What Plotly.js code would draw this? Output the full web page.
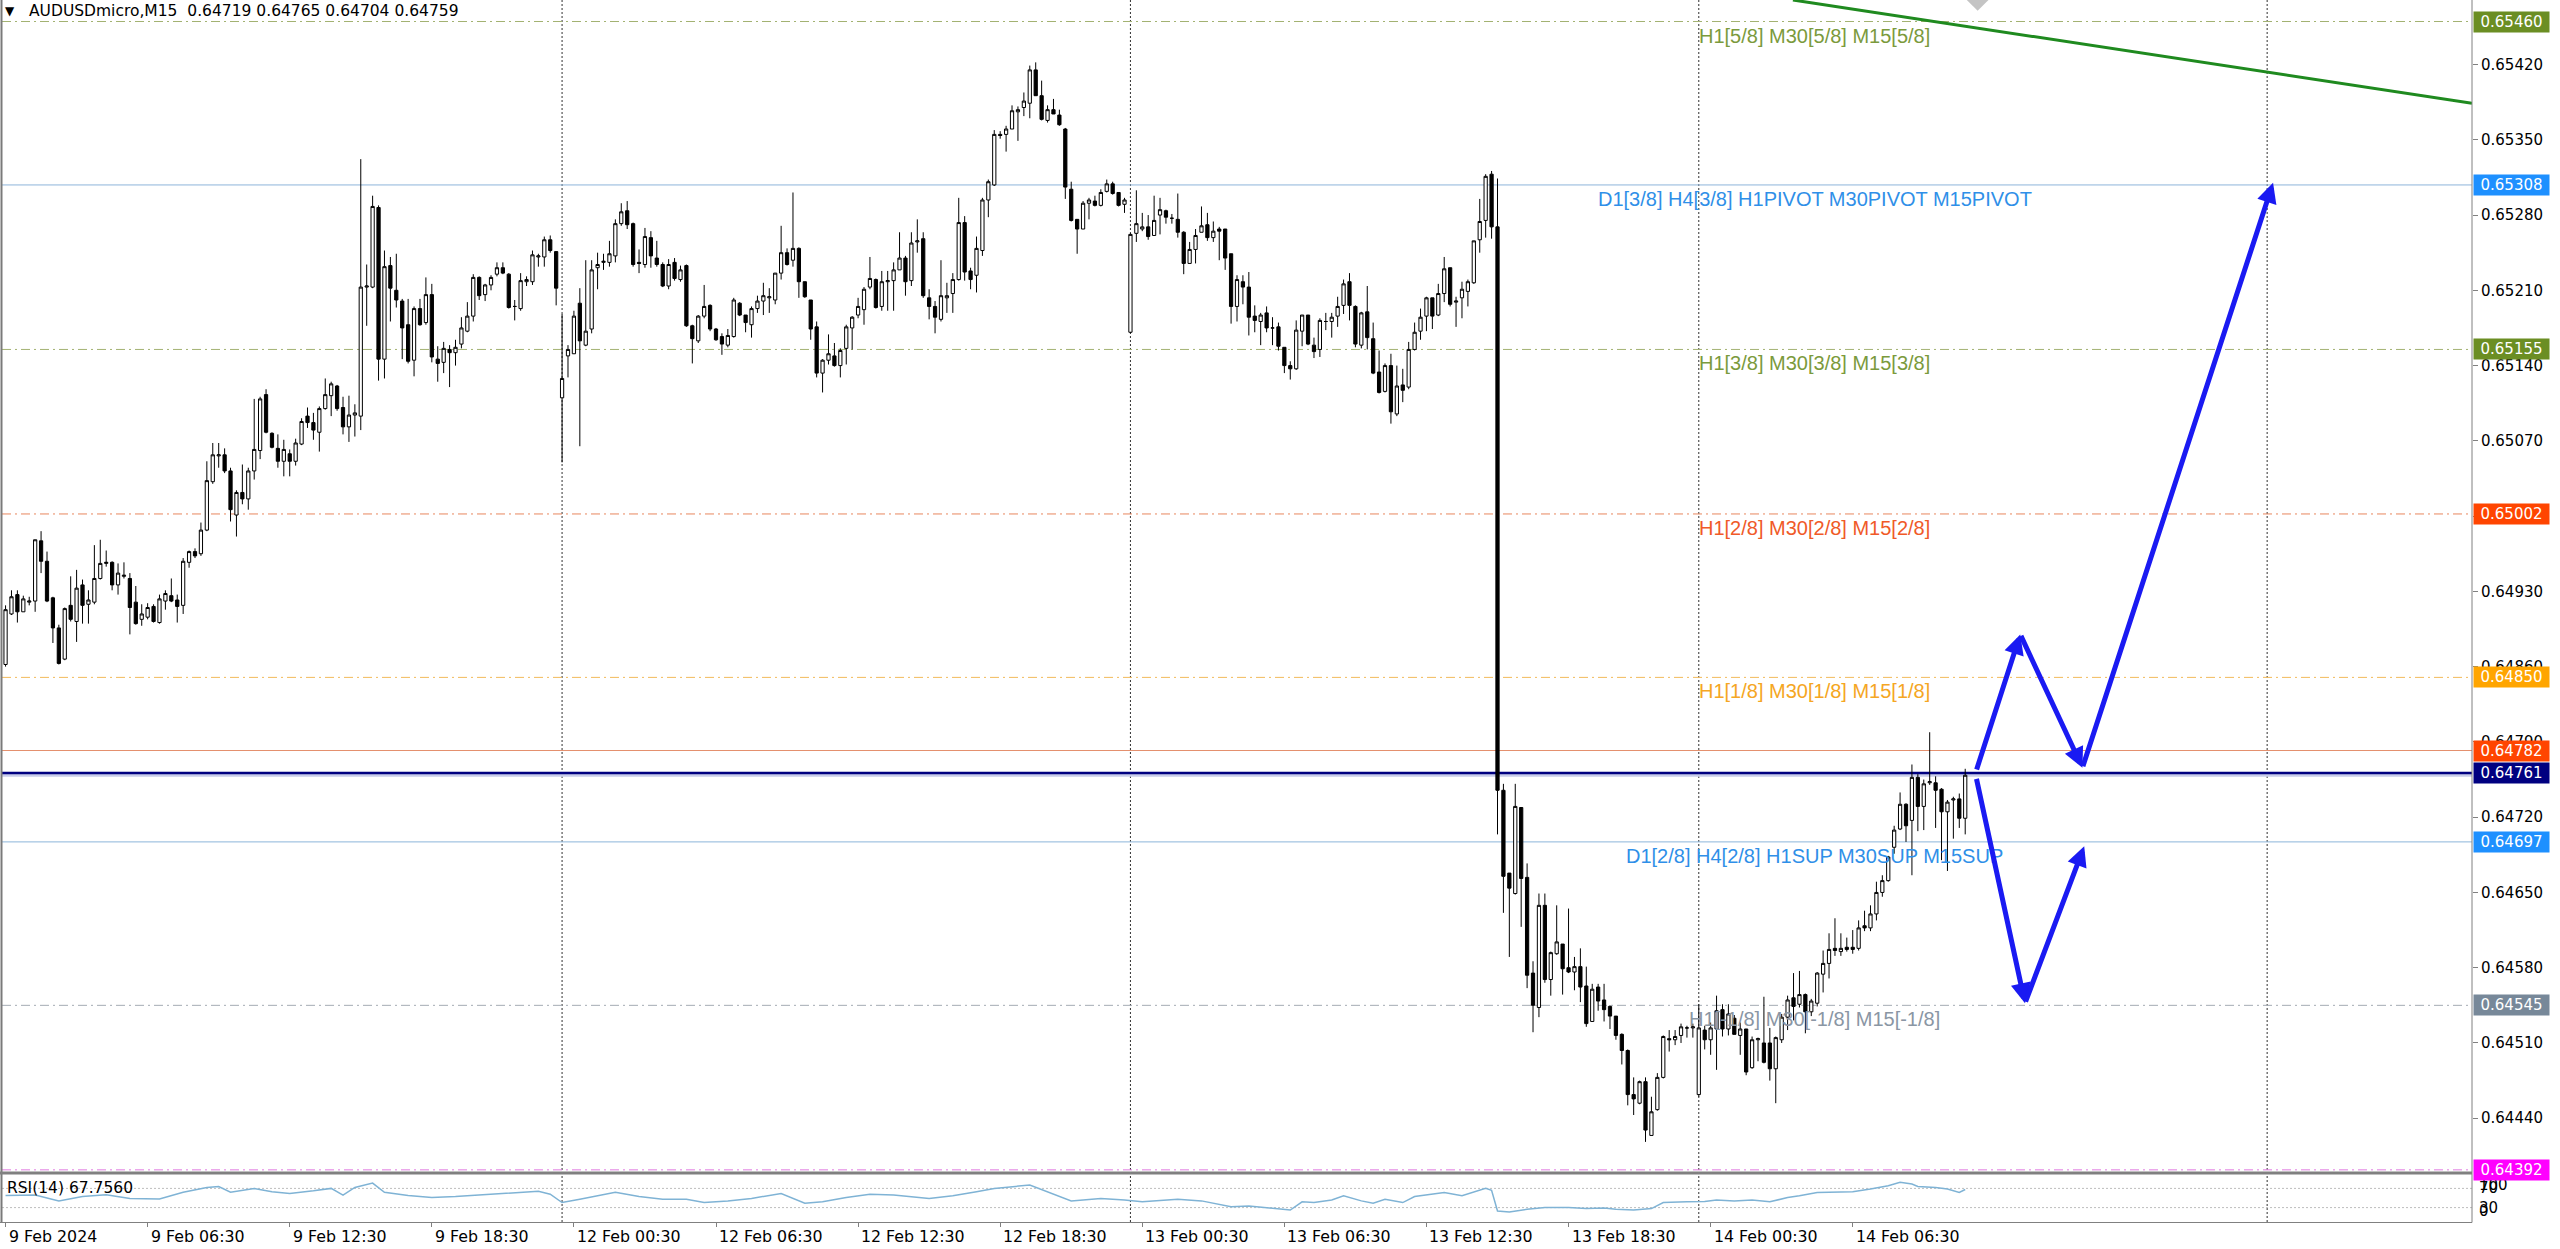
<!DOCTYPE html>
<html><head><meta charset="utf-8">
<script src="https://cdn.plot.ly/plotly-3.0.1.min.js"></script>
<style>html,body{margin:0;padding:0;background:#fff;overflow:hidden}</style>
</head><body><div id="chart" style="width:2560px;height:1249px"></div>
<script>
// ---------------- DATA ----------------
// Bars: AUDUSDmicro M15. Bar index 0 = 9 Feb 2024 00:00, 96 bars per day, weekend skipped.
const firstBar = 2;
const open = [
0.64862,0.64909,0.64927,0.64911,0.64920,0.64921,0.64977,0.64958,0.64924,0.64896,
0.64867,0.64917,0.64902,0.64936,0.64918,0.64920,0.64942,0.64956,0.64957,0.64936,
0.64944,0.64942,0.64920,0.64904,0.64906,0.64916,0.64901,0.64921,0.64926,0.64922,
0.64917,0.64957,0.64967,0.64965,0.64987,0.65032,0.65056,0.65057,0.65042,0.65001,
0.65022,0.65016,0.65042,0.65061,0.65113,0.65077,0.65063,0.65051,0.65058,0.65051,
0.65067,0.65093,0.65087,0.65078,0.65100,0.65112,0.65121,0.65101,0.65083,0.65094,
0.65093,0.65213,0.65213,0.65287,0.65146,0.65233,0.65210,0.65200,0.65178,0.65145,
0.65193,0.65180,0.65206,0.65146,0.65143,0.65155,0.65152,0.65160,0.65172,0.65186,
0.65222,0.65206,0.65215,0.65225,0.65231,0.65225,0.65195,0.65193,0.65218,0.65218,
0.65241,0.65241,0.65257,0.65246,0.65110,0.65149,0.65151,0.65198,0.65159,0.65174,
0.65231,0.65236,0.65236,0.65242,0.65272,0.65284,0.65272,0.65236,0.65234,0.65259,
0.65240,0.65234,0.65214,0.65236,0.65220,0.65233,0.65177,0.65163,0.65186,0.65196,
0.65174,0.65167,0.65159,0.65167,0.65198,0.65187,0.65178,0.65193,0.65200,0.65203,
0.65201,0.65226,0.65245,0.65238,0.65249,0.65218,0.65201,0.65176,0.65133,0.65145,
0.65149,0.65140,0.65156,0.65175,0.65187,0.65192,0.65213,0.65220,0.65195,0.65218,
0.65219,0.65229,0.65240,0.65219,0.65255,0.65258,0.65203,0.65195,0.65183,0.65203,
0.65207,0.65220,0.65273,0.65228,0.65224,0.65247,0.65294,0.65308,0.65355,0.65355,
0.65360,0.65376,0.65380,0.65384,0.65415,0.65391,0.65368,0.65378,0.65373,0.65360,
0.65304,0.65276,0.65267,0.65291,0.65293,0.65289,0.65302,0.65309,0.65301,0.65290,
0.65171,0.65263,0.65267,0.65269,0.65261,0.65280,0.65284,0.65277,0.65276,0.65264,
0.65235,0.65248,0.65264,0.65271,0.65259,0.65267,0.65267,0.65244,0.65195,0.65218,
0.65213,0.65186,0.65181,0.65189,0.65175,0.65176,0.65157,0.65140,0.65137,0.65172,
0.65187,0.65159,0.65155,0.65181,0.65181,0.65186,0.65196,0.65218,0.65195,0.65159,
0.65190,0.65165,0.65134,0.65116,0.65140,0.65095,0.65122,0.65120,0.65155,0.65172,
0.65186,0.65203,0.65187,0.65207,0.65231,0.65199,0.65203,0.65209,0.65217,0.65257,
0.65275,0.65318,0.65269,0.64745,0.64668,0.64649,0.64729,0.64664,0.64575,0.64543,
0.64638,0.64569,0.64593,0.64602,0.64580,0.64576,0.64581,0.64563,0.64530,0.64562,
0.64550,0.64544,0.64535,0.64518,0.64503,0.64462,0.64454,0.64474,0.64424,0.64448,
0.64478,0.64514,0.64513,0.64517,0.64524,0.64524,0.64462,0.64522,0.64513,0.64523,
0.64541,0.64523,0.64533,0.64517,0.64523,0.64487,0.64513,0.64510,0.64510,0.64486,
0.64513,0.64534,0.64552,0.64546,0.64555,0.64539,0.64547,0.64574,0.64584,0.64598,
0.64595,0.64599,0.64599,0.64598,0.64619,0.64617,0.64630,0.64650,0.64661,0.64692,
0.64709,0.64732,0.64717,0.64757,0.64730,0.64752,0.64752,0.64746,0.64725,0.64736,
0.64737,0.64719];
const high = [
0.64917,0.64931,0.64931,0.64926,0.64925,0.64978,0.64986,0.64967,0.64925,0.64899,
0.64915,0.64944,0.64950,0.64941,0.64931,0.64973,0.64978,0.64968,0.64958,0.64956,
0.64957,0.64947,0.64935,0.64918,0.64919,0.64918,0.64927,0.64931,0.64942,0.64927,
0.64961,0.64968,0.64970,0.64994,0.65051,0.65068,0.65068,0.65063,0.65045,0.65024,
0.65048,0.65045,0.65109,0.65111,0.65118,0.65078,0.65076,0.65071,0.65062,0.65072,
0.65091,0.65101,0.65096,0.65102,0.65128,0.65125,0.65122,0.65111,0.65112,0.65104,
0.65332,0.65234,0.65298,0.65289,0.65247,0.65241,0.65244,0.65202,0.65202,0.65195,
0.65202,0.65222,0.65216,0.65158,0.65162,0.65159,0.65164,0.65185,0.65199,0.65225,
0.65223,0.65216,0.65224,0.65236,0.65236,0.65226,0.65201,0.65226,0.65223,0.65247,
0.65244,0.65260,0.65261,0.65246,0.65188,0.65159,0.65191,0.65212,0.65238,0.65238,
0.65245,0.65244,0.65256,0.65276,0.65291,0.65293,0.65273,0.65248,0.65268,0.65265,
0.65256,0.65236,0.65239,0.65240,0.65233,0.65234,0.65178,0.65187,0.65215,0.65197,
0.65175,0.65170,0.65174,0.65203,0.65199,0.65187,0.65195,0.65205,0.65217,0.65212,
0.65226,0.65270,0.65249,0.65301,0.65250,0.65218,0.65201,0.65181,0.65146,0.65169,
0.65161,0.65156,0.65178,0.65186,0.65203,0.65213,0.65241,0.65221,0.65228,0.65228,
0.65236,0.65264,0.65242,0.65264,0.65276,0.65264,0.65211,0.65200,0.65238,0.65217,
0.65226,0.65296,0.65279,0.65231,0.65260,0.65296,0.65313,0.65359,0.65358,0.65363,
0.65382,0.65381,0.65394,0.65419,0.65422,0.65405,0.65382,0.65388,0.65378,0.65361,
0.65311,0.65276,0.65293,0.65296,0.65298,0.65304,0.65313,0.65311,0.65301,0.65296,
0.65263,0.65303,0.65282,0.65280,0.65298,0.65296,0.65285,0.65281,0.65300,0.65265,
0.65255,0.65267,0.65288,0.65282,0.65274,0.65269,0.65267,0.65244,0.65224,0.65224,
0.65227,0.65196,0.65189,0.65195,0.65185,0.65180,0.65157,0.65144,0.65182,0.65187,
0.65187,0.65166,0.65184,0.65189,0.65189,0.65204,0.65220,0.65226,0.65196,0.65190,
0.65214,0.65180,0.65154,0.65142,0.65151,0.65140,0.65137,0.65162,0.65180,0.65193,
0.65204,0.65203,0.65216,0.65241,0.65231,0.65204,0.65218,0.65220,0.65256,0.65295,
0.65318,0.65321,0.65314,0.64751,0.64668,0.64751,0.64729,0.64677,0.64586,0.64649,
0.64649,0.64595,0.64638,0.64602,0.64635,0.64590,0.64598,0.64581,0.64565,0.64565,
0.64565,0.64545,0.64535,0.64519,0.64504,0.64478,0.64475,0.64478,0.64460,0.64482,
0.64517,0.64522,0.64522,0.64528,0.64526,0.64528,0.64546,0.64526,0.64529,0.64554,
0.64546,0.64546,0.64536,0.64529,0.64523,0.64516,0.64515,0.64553,0.64524,0.64516,
0.64537,0.64554,0.64575,0.64577,0.64556,0.64551,0.64576,0.64596,0.64612,0.64626,
0.64612,0.64608,0.64615,0.64624,0.64633,0.64638,0.64660,0.64666,0.64684,0.64712,
0.64743,0.64733,0.64769,0.64760,0.64755,0.64799,0.64758,0.64747,0.64736,0.64739,
0.64742,0.64765];
const low = [
0.64860,0.64908,0.64901,0.64911,0.64917,0.64911,0.64947,0.64920,0.64882,0.64862,
0.64866,0.64902,0.64883,0.64900,0.64900,0.64918,0.64941,0.64953,0.64931,0.64927,
0.64942,0.64890,0.64899,0.64898,0.64904,0.64901,0.64900,0.64913,0.64920,0.64901,
0.64909,0.64952,0.64961,0.64963,0.64986,0.65030,0.65045,0.65040,0.64995,0.64981,
0.65011,0.65006,0.65034,0.65053,0.65077,0.65063,0.65045,0.65037,0.65037,0.65047,
0.65066,0.65082,0.65071,0.65060,0.65099,0.65093,0.65098,0.65076,0.65069,0.65074,
0.65080,0.65177,0.65212,0.65126,0.65128,0.65181,0.65194,0.65146,0.65142,0.65130,
0.65177,0.65178,0.65143,0.65125,0.65133,0.65120,0.65140,0.65156,0.65171,0.65181,
0.65201,0.65200,0.65210,0.65223,0.65225,0.65193,0.65182,0.65191,0.65214,0.65215,
0.65232,0.65232,0.65245,0.65196,0.65050,0.65129,0.65151,0.65065,0.65158,0.65170,
0.65211,0.65229,0.65232,0.65236,0.65270,0.65267,0.65232,0.65226,0.65231,0.65231,
0.65232,0.65213,0.65211,0.65219,0.65218,0.65176,0.65142,0.65161,0.65184,0.65172,
0.65163,0.65150,0.65157,0.65166,0.65186,0.65171,0.65166,0.65189,0.65187,0.65189,
0.65197,0.65220,0.65233,0.65232,0.65203,0.65203,0.65164,0.65129,0.65115,0.65141,
0.65139,0.65129,0.65141,0.65155,0.65184,0.65178,0.65211,0.65193,0.65191,0.65191,
0.65191,0.65229,0.65205,0.65214,0.65245,0.65203,0.65183,0.65170,0.65181,0.65189,
0.65189,0.65219,0.65219,0.65211,0.65208,0.65242,0.65278,0.65307,0.65351,0.65339,
0.65360,0.65349,0.65372,0.65370,0.65391,0.65368,0.65366,0.65374,0.65363,0.65295,
0.65274,0.65244,0.65267,0.65276,0.65288,0.65288,0.65301,0.65299,0.65288,0.65282,
0.65170,0.65255,0.65265,0.65257,0.65261,0.65262,0.65272,0.65272,0.65259,0.65225,
0.65235,0.65235,0.65264,0.65256,0.65255,0.65238,0.65229,0.65179,0.65181,0.65197,
0.65168,0.65171,0.65159,0.65171,0.65159,0.65154,0.65133,0.65127,0.65136,0.65158,
0.65159,0.65147,0.65148,0.65173,0.65166,0.65176,0.65188,0.65182,0.65157,0.65156,
0.65155,0.65132,0.65114,0.65115,0.65086,0.65093,0.65106,0.65118,0.65154,0.65164,
0.65172,0.65174,0.65186,0.65199,0.65195,0.65176,0.65184,0.65195,0.65216,0.65245,
0.65259,0.65258,0.64704,0.64631,0.64590,0.64648,0.64618,0.64561,0.64520,0.64534,
0.64566,0.64554,0.64592,0.64555,0.64575,0.64559,0.64548,0.64525,0.64530,0.64540,
0.64530,0.64523,0.64513,0.64490,0.64452,0.64443,0.64453,0.64418,0.64424,0.64447,
0.64477,0.64502,0.64508,0.64510,0.64515,0.64515,0.64460,0.64504,0.64499,0.64485,
0.64516,0.64517,0.64518,0.64499,0.64480,0.64486,0.64493,0.64491,0.64475,0.64454,
0.64510,0.64522,0.64531,0.64543,0.64519,0.64535,0.64544,0.64557,0.64570,0.64591,
0.64591,0.64595,0.64593,0.64596,0.64614,0.64614,0.64624,0.64646,0.64660,0.64686,
0.64708,0.64697,0.64666,0.64707,0.64708,0.64750,0.64710,0.64680,0.64670,0.64700,
0.64710,0.64704];
const close = [
0.64913,0.64925,0.64911,0.64923,0.64921,0.64978,0.64958,0.64921,0.64896,0.64863,
0.64914,0.64904,0.64933,0.64917,0.64922,0.64942,0.64956,0.64957,0.64936,0.64947,
0.64945,0.64915,0.64900,0.64909,0.64915,0.64902,0.64923,0.64928,0.64921,0.64916,
0.64958,0.64967,0.64963,0.64987,0.65033,0.65057,0.65057,0.65042,0.65006,0.65022,
0.65016,0.65042,0.65062,0.65109,0.65078,0.65064,0.65051,0.65062,0.65051,0.65068,
0.65088,0.65087,0.65080,0.65100,0.65113,0.65123,0.65100,0.65083,0.65094,0.65096,
0.65213,0.65214,0.65288,0.65146,0.65232,0.65212,0.65201,0.65175,0.65144,0.65193,
0.65178,0.65206,0.65148,0.65142,0.65156,0.65152,0.65157,0.65175,0.65186,0.65222,
0.65205,0.65215,0.65222,0.65231,0.65226,0.65194,0.65195,0.65219,0.65220,0.65243,
0.65242,0.65257,0.65247,0.65212,0.65128,0.65155,0.65186,0.65163,0.65172,0.65229,
0.65234,0.65237,0.65244,0.65272,0.65283,0.65271,0.65234,0.65235,0.65260,0.65242,
0.65234,0.65214,0.65234,0.65221,0.65229,0.65177,0.65165,0.65186,0.65195,0.65174,
0.65164,0.65160,0.65168,0.65201,0.65187,0.65180,0.65193,0.65200,0.65205,0.65204,
0.65226,0.65245,0.65234,0.65249,0.65218,0.65204,0.65174,0.65133,0.65145,0.65151,
0.65140,0.65154,0.65176,0.65185,0.65195,0.65211,0.65221,0.65194,0.65218,0.65219,
0.65229,0.65240,0.65218,0.65254,0.65256,0.65205,0.65195,0.65185,0.65205,0.65205,
0.65220,0.65273,0.65227,0.65220,0.65249,0.65294,0.65311,0.65355,0.65354,0.65360,
0.65377,0.65378,0.65386,0.65415,0.65391,0.65369,0.65378,0.65374,0.65364,0.65306,
0.65275,0.65267,0.65291,0.65294,0.65289,0.65301,0.65309,0.65300,0.65289,0.65294,
0.65262,0.65272,0.65269,0.65260,0.65275,0.65285,0.65278,0.65277,0.65264,0.65235,
0.65248,0.65261,0.65270,0.65259,0.65265,0.65265,0.65240,0.65195,0.65220,0.65213,
0.65185,0.65182,0.65187,0.65175,0.65175,0.65158,0.65140,0.65137,0.65173,0.65187,
0.65160,0.65153,0.65182,0.65181,0.65185,0.65195,0.65216,0.65196,0.65160,0.65189,
0.65166,0.65133,0.65115,0.65140,0.65097,0.65121,0.65117,0.65155,0.65171,0.65185,
0.65203,0.65186,0.65207,0.65230,0.65197,0.65200,0.65211,0.65218,0.65256,0.65274,
0.65316,0.65269,0.64745,0.64665,0.64654,0.64730,0.64663,0.64573,0.64545,0.64638,
0.64569,0.64594,0.64604,0.64579,0.64576,0.64581,0.64562,0.64528,0.64560,0.64549,
0.64541,0.64535,0.64517,0.64503,0.64462,0.64458,0.64474,0.64429,0.64446,0.64478,
0.64516,0.64513,0.64516,0.64525,0.64524,0.64525,0.64524,0.64513,0.64524,0.64540,
0.64523,0.64537,0.64518,0.64523,0.64483,0.64513,0.64514,0.64492,0.64486,0.64515,
0.64534,0.64550,0.64544,0.64555,0.64539,0.64549,0.64575,0.64584,0.64597,0.64596,
0.64598,0.64597,0.64597,0.64617,0.64617,0.64630,0.64650,0.64661,0.64683,0.64708,
0.64732,0.64712,0.64757,0.64730,0.64751,0.64753,0.64745,0.64725,0.64734,0.64737,
0.64719,0.64759];

// RSI(14)
const rsiIdx = [2,7,11,15,19,23,28,32,36,38,40,44,47,50,54,57,59,61,64,66,70,74,78,82,86,92,94,96,99,105,
109,113,117,120,124,128,133,137,140,144,148,152,158,162,166,169,175,178,182,187,191,194,200,204,209,212,215,219,221,223,
226,228,231,233,235,238,240,243,245,248,250,252,253,254,256,259,262,266,269,272,274,277,280,282,286,289,291,294,297,300,
303,305,308,311,314,317,320,322,324,325,328,330,332,333];
const rsiVal = [55,56,44,53,57,49,48,62,72,74,62,70,63,59.5,65,70,56,72,81,62,55,51,53,56,60,64,58,40.5,47.5,62,
53,47.5,47.5,40.5,44,49,59.5,39,42,51,58,56,49,54.6,63,70,77,63,44,49,46,42,47.5,44,32,33.5,30,25,42,40.5,
46,54.6,44,39,47.5,40.5,53,58,61.6,54.6,61.6,70,66,23,21,26.5,30,30,28,29,26.5,25,28,40.5,42,42.6,46,44,46,42,
51,54.6,61.6,63,63,68.6,75.6,82.6,79,74,72,68.6,61.6,67.756];
const rsiLevels = [70, 30];
const rsiScaleLabels = ['100','70','30','0'];
const rsiScaleValues = [100, 70, 30, 0];

// Time axis labels
const tickIdx = [2,26,50,74,98,122,146,170,194,218,242,266,290,314];
const tickText = ['9 Feb 2024','9 Feb 06:30','9 Feb 12:30','9 Feb 18:30','12 Feb 00:30','12 Feb 06:30','12 Feb 12:30',
  '12 Feb 18:30','13 Feb 00:30','13 Feb 06:30','13 Feb 12:30','13 Feb 18:30','14 Feb 00:30','14 Feb 06:30'];
const daySeparators = [96,192,288,384];

// Price scale
const priceTicks = [0.65420,0.65350,0.65280,0.65210,0.65140,0.65070,0.65000,0.64930,0.64860,0.64790,0.64720,0.64650,0.64580,0.64510,0.64440];

// Horizontal levels (Murrey / pivot levels)
const levelPrice = [0.65460,0.65308,0.65155,0.65002,0.64850,0.64782,0.64761,0.64697,0.64545,0.64392];
const levelText = ['H1[5/8] M30[5/8] M15[5/8]','D1[3/8] H4[3/8] H1PIVOT M30PIVOT M15PIVOT','H1[3/8] M30[3/8] M15[3/8]',
  'H1[2/8] M30[2/8] M15[2/8]','H1[1/8] M30[1/8] M15[1/8]','','','D1[2/8] H4[2/8] H1SUP M30SUP M15SUP','H1[-1/8] M30[-1/8] M15[-1/8]',''];

// Drawn objects
const trendIdx = [303.9, 418.6];
const trendPrice = [0.65480, 0.65384];
const arrowAIdx = [334.85, 342.3, 352.8, 385.0];
const arrowAPrice = [0.64763, 0.64890, 0.64766, 0.65310];
const arrowBIdx = [334.85, 343.1, 353.1];
const arrowBPrice = [0.64757, 0.64547, 0.64693];
const markerIdx = [335.1];
const markerPrice = [0.65482];
const symbolName = 'AUDUSDmicro,M15';
const rsiName = 'RSI(14)';

// ---------------- STYLES ----------------
const UI = 'DejaVu Sans, Verdana, sans-serif';
const OBJ = 'Liberation Sans, Arial, sans-serif';
const levelLineStyle = [
  {color:'#a3b272', width:1, dash:'9px,4px,2px,4px'},
  {color:'#8db5da', width:1, dash:'solid'},
  {color:'#a3b272', width:1, dash:'9px,4px,2px,4px'},
  {color:'#e8875e', width:1, dash:'9px,4px,2px,4px'},
  {color:'#f2ba5a', width:1, dash:'9px,4px,2px,4px'},
  {color:'#e4906e', width:1, dash:'solid'},
  {color:'#000080', width:2.5, dash:'solid'},
  {color:'#8db5da', width:1, dash:'solid'},
  {color:'#a4abb4', width:1, dash:'9px,4px,2px,4px'},
  {color:'#e07ae0', width:1, dash:'9px,4px,2px,4px'}
];
const levelBoxColor = ['#6B8E23','#1E90FF','#6B8E23','#FF4500','#FFA500','#FF4500','#000080','#1E90FF','#778899','#FF00FF'];
const levelTextColor = ['#7b9a3c','#2f8fe8','#7b9a3c','#f05a28','#f5a623','','','#2f8fe8','#8a96a4',''];

const W = 2560, H = 1249;
const px = v => v / W;
const py = v => 1 - v / H;
const xDom = [px(2), px(2472)];
const xRange = [1.4, 418.6];
const labelCenterIdx = 307.6;

const barIdx = open.map((_, k) => firstBar + k);

const traces = [
  {type:'candlestick', x:barIdx, open:open, high:high, low:low, close:close, xaxis:'x', yaxis:'y',
   increasing:{line:{color:'#000000', width:1}, fillcolor:'#ffffff'},
   decreasing:{line:{color:'#000000', width:1}, fillcolor:'#000000'},
   whiskerwidth:0, hoverinfo:'skip', showlegend:false},
  {type:'scatter', mode:'lines', x:trendIdx, y:trendPrice, xaxis:'x', yaxis:'y',
   line:{color:'#1f8a1f', width:3}, hoverinfo:'skip', showlegend:false},
  {type:'scatter', mode:'markers', x:markerIdx, y:markerPrice, xaxis:'x', yaxis:'y', cliponaxis:true,
   marker:{symbol:'diamond', size:20, color:'#c4c4c4'}, hoverinfo:'skip', showlegend:false},
  {type:'scatter', mode:'lines', x:rsiIdx, y:rsiVal, xaxis:'x2', yaxis:'y2',
   line:{color:'#7fb3d5', width:1.5}, hoverinfo:'skip', showlegend:false}
];

const shapes = [];
// day separators
daySeparators.forEach(d => shapes.push({type:'line', xref:'x', yref:'paper', x0:d, x1:d, y0:py(1222), y1:1,
  line:{color:'#303030', width:1, dash:'2px,2px'}, layer:'below'}));
// bid line
shapes.push({type:'line', xref:'paper', yref:'y', x0:xDom[0], x1:xDom[1], y0:close[close.length-1], y1:close[close.length-1],
  line:{color:'#c9cdea', width:3}, layer:'below'});
// level lines
levelPrice.forEach((lv, k) => shapes.push({type:'line', xref:'paper', yref:'y', x0:xDom[0], x1:xDom[1], y0:lv, y1:lv,
  line:levelLineStyle[k], layer:'below'}));
// RSI levels
rsiLevels.forEach(v => shapes.push({type:'line', xref:'paper', yref:'y2', x0:xDom[0], x1:xDom[1], y0:v, y1:v,
  line:{color:'#bdbdbd', width:1, dash:'2px,2px'}, layer:'below'}));
// frames
shapes.push({type:'line', xref:'paper', yref:'paper', x0:px(1.5), x1:px(1.5), y0:py(1222.5), y1:1, line:{color:'#7a7a7a', width:2}});
shapes.push({type:'line', xref:'paper', yref:'paper', x0:px(2472), x1:px(2472), y0:py(1222.5), y1:1, line:{color:'#808080', width:1}});
shapes.push({type:'line', xref:'paper', yref:'paper', x0:0, x1:px(2472), y0:py(1173), y1:py(1173), line:{color:'#808080', width:3}});
shapes.push({type:'line', xref:'paper', yref:'paper', x0:0, x1:px(2472), y0:py(1222.5), y1:py(1222.5), line:{color:'#808080', width:1}});

const ann = [];
// header
ann.push({xref:'paper', yref:'paper', x:px(10), y:py(11), xanchor:'center', yanchor:'middle', text:'▼', showarrow:false,
  font:{family:UI, size:12, color:'#000'}});
ann.push({xref:'paper', yref:'paper', x:px(27), y:py(11), xanchor:'left', yanchor:'middle', showarrow:false,
  text: symbolName + '  ' + [open, high, low, close].map(a => a[a.length-1].toFixed(5)).join(' '),
  font:{family:UI, size:15.5, color:'#000'}});
// RSI label
ann.push({xref:'paper', yref:'paper', x:px(5), y:py(1188), xanchor:'left', yanchor:'middle', showarrow:false,
  text: rsiName + ' ' + rsiVal[rsiVal.length-1].toFixed(4), font:{family:UI, size:15.5, color:'#000'}});
// RSI scale labels
rsiScaleLabels.forEach((t, k) => {
  const v = rsiScaleValues[k];
  ann.push({xref:'paper', yref:'y2', x:px(2477), y:v, xanchor:'left',
    yanchor: v === 100 ? 'top' : (v === 0 ? 'bottom' : 'middle'), showarrow:false, text:t,
    font:{family:UI, size:15, color:'#000'}});
});
// date labels
tickIdx.forEach((ix, k) => ann.push({xref:'x', yref:'paper', x:ix, y:py(1236), xanchor:'left', yanchor:'middle', xshift:1,
  showarrow:false, text:tickText[k], font:{family:UI, size:15.8, color:'#000'}}));
// level texts
levelPrice.forEach((lv, k) => {
  if (!levelText[k]) return;
  ann.push({xref:'x', yref:'y', x:labelCenterIdx, y:lv, xanchor:'center', yanchor:'top', yshift:-1, showarrow:false,
    text:levelText[k], font:{family:OBJ, size:20, color:levelTextColor[k]}});
});
// price boxes
levelPrice.forEach((lv, k) => ann.push({xref:'paper', yref:'y', x:px(2473), y:lv, xanchor:'left', yanchor:'middle',
  showarrow:false, text:lv.toFixed(5), bgcolor:levelBoxColor[k], borderpad:1, width:73, height:18, align:'center',
  font:{family:UI, size:15, color:'#ffffff'}}));
// blue arrows
function addPath(xs, ys) {
  for (let k = 1; k < xs.length; k++) {
    ann.push({xref:'x', yref:'y', axref:'x', ayref:'y', x:xs[k], y:ys[k], ax:xs[k-1], ay:ys[k-1], text:'',
      showarrow:true, arrowhead:2, arrowsize:0.8, arrowwidth:5, arrowcolor:'#1a1af2'});
  }
}
addPath(arrowAIdx, arrowAPrice);
addPath(arrowBIdx, arrowBPrice);

const layout = {
  width:W, height:H, margin:{l:0, r:0, t:0, b:0}, paper_bgcolor:'#ffffff', plot_bgcolor:'#ffffff',
  showlegend:false, hovermode:false, dragmode:false, boxgap:0.22,
  xaxis:{domain:xDom, range:xRange, anchor:'y', showgrid:false, zeroline:false, showticklabels:false, ticks:'',
    showline:false, rangeslider:{visible:false}, fixedrange:true},
  yaxis:{domain:[py(1172), 1], range:[0.64390, 0.65480], anchor:'x', side:'right', tickmode:'array',
    tickvals:priceTicks, ticktext:priceTicks.map(v => v.toFixed(5)), ticks:'outside', ticklen:5, tickcolor:'#808080',
    tickfont:{family:UI, size:15, color:'#000'}, showgrid:false, zeroline:false, showline:false, fixedrange:true},
  xaxis2:{domain:xDom, range:xRange, anchor:'y2', showgrid:false, zeroline:false, showticklabels:false,
    tickmode:'array', tickvals:tickIdx, ticks:'outside', ticklen:4, tickcolor:'#808080', showline:false, fixedrange:true},
  yaxis2:{domain:[py(1222), py(1174)], range:[0, 100], anchor:'x2', showgrid:false, zeroline:false,
    showticklabels:false, ticks:'', showline:false, fixedrange:true},
  shapes:shapes, annotations:ann
};

Plotly.newPlot('chart', traces, layout, {staticPlot:true, displayModeBar:false});
</script></body></html>
